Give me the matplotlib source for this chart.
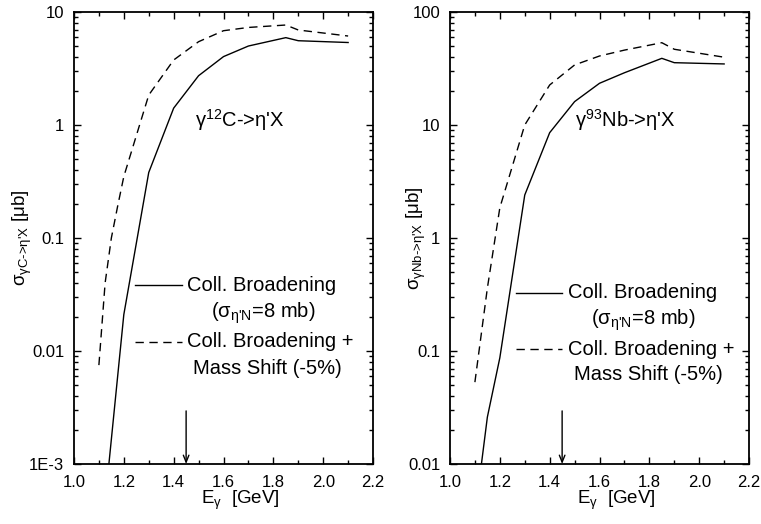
import matplotlib
matplotlib.use("Agg")
import matplotlib.pyplot as plt
import numpy as np
from matplotlib.lines import Line2D
from matplotlib.ticker import FuncFormatter, LogLocator, MultipleLocator, NullFormatter

plt.rcParams["font.family"] = ["Liberation Sans", "DejaVu Sans"]
plt.rcParams["mathtext.fontset"] = "custom"
plt.rcParams["mathtext.rm"] = "Liberation Sans"
plt.rcParams["mathtext.it"] = "Liberation Sans:italic"
plt.rcParams["mathtext.bf"] = "Liberation Sans:bold"

# carbon target
c_broad_e = [1.1, 1.2, 1.3, 1.4, 1.5, 1.6, 1.7, 1.85, 1.9, 2.1]
c_broad = [1.3e-4, 0.021, 0.38, 1.41, 2.73, 4.03, 5.0, 5.93, 5.57, 5.37]
c_shift_e = [1.1, 1.125, 1.15, 1.175, 1.2, 1.3, 1.4, 1.5, 1.6, 1.7, 1.85, 1.9, 2.1]
c_shift = [0.0075, 0.04, 0.1, 0.19, 0.35, 1.84, 3.76, 5.46, 6.83, 7.3, 7.67, 6.93, 6.13]

# niobium target
nb_broad_e = [1.1, 1.15, 1.2, 1.3, 1.4, 1.5, 1.6, 1.7, 1.85, 1.9, 2.1]
nb_broad = [0.0035, 0.026, 0.087, 2.4, 8.55, 16.1, 23.4, 29.0, 38.9, 35.6, 34.7]
nb_shift_e = [1.1, 1.15, 1.2, 1.3, 1.4, 1.5, 1.6, 1.7, 1.85, 1.9, 2.1]
nb_shift = [0.053, 0.36, 1.85, 10.0, 22.6, 34.0, 40.8, 46.0, 53.5, 46.8, 39.8]

threshold = 1.45
label_broad = ["Coll. Broadening", "(σ$_{\\text{η'N}}$=8 mb)"]
label_shift = ["Coll. Broadening +", "Mass Shift (-5%)"]


def log_label(value, _pos):
    if value >= 0.01:
        return f"{value:g}"
    return f"1E{int(round(np.log10(value)))}"


def style_axis(ax, ylim):
    ax.set_yscale("log")
    ax.set_xlim(1.0, 2.2)
    ax.set_ylim(*ylim)
    ax.xaxis.set_major_locator(MultipleLocator(0.2))
    ax.xaxis.set_minor_locator(MultipleLocator(0.1))
    ax.xaxis.set_major_formatter(FuncFormatter(lambda v, _p: f"{v:.1f}"))
    ax.yaxis.set_major_locator(LogLocator(base=10))
    ax.yaxis.set_minor_locator(LogLocator(base=10, subs=np.arange(2, 10)))
    ax.yaxis.set_major_formatter(FuncFormatter(log_label))
    ax.yaxis.set_minor_formatter(NullFormatter())
    ax.tick_params(which="both", direction="in", top=True, right=True, width=1.0, labelsize=12)
    ax.tick_params(which="major", length=5, pad=7)
    ax.tick_params(axis="x", which="major", pad=8)
    ax.tick_params(which="minor", length=3)
    for spine in ax.spines.values():
        spine.set_linewidth(1.3)
    ax.set_xlabel("E$_{\\text{γ}}$  [GeV]", fontsize=13.5)
    ax.xaxis.set_label_coords(0.555, -0.055)


def draw_legend(ax, x0, x1, text_x, rows):
    (y_broad, y_broad2, cx_broad), (y_shift, y_shift2, cx_shift) = rows
    for y, y2, cx, style, lines in (
        (y_broad, y_broad2, cx_broad, "-", label_broad),
        (y_shift, y_shift2, cx_shift, (0, (6, 4)), label_shift),
    ):
        ax.add_line(Line2D([x0, x1], [y, y], transform=ax.transAxes, color="black",
                           lw=1.0, linestyle=style))
        ax.text(text_x, y, lines[0], transform=ax.transAxes, fontsize=14.5,
                ha="left", va="center")
        ax.text(cx, y2, lines[1], transform=ax.transAxes, fontsize=14.5,
                ha="center", va="center")


fig = plt.figure(figsize=(7.61, 5.24), dpi=100)
ax_c = fig.add_axes([0.0972, 0.1145, 0.393, 0.8626])
ax_nb = fig.add_axes([0.5913, 0.1145, 0.393, 0.8626])

ax_c.plot(c_broad_e, c_broad, color="black", lw=1.0)
ax_c.plot(c_shift_e, c_shift, color="black", lw=1.0, linestyle=(0, (6, 4)))
style_axis(ax_c, (1e-3, 10))
ax_c.set_ylabel("σ$_{\\text{γC->η'X}}$ [μb]", fontsize=13.5)
ax_c.yaxis.set_label_coords(-0.135, 0.5)
ax_c.text(0.555, 0.761, "γ$^{\\text{12}}$C->η'X", transform=ax_c.transAxes,
          fontsize=14.5, ha="center", va="center")
draw_legend(ax_c, 0.204, 0.361, 0.378,
            ((0.396, 0.334, 0.632), (0.271, 0.212, 0.646)))
ax_c.annotate("", xy=(threshold, 1e-3), xytext=(threshold, 2.95e-3),
              arrowprops=dict(arrowstyle="->,head_length=0.5,head_width=0.2",
                              color="black", lw=1.0, shrinkA=0, shrinkB=0))

ax_nb.plot(nb_broad_e, nb_broad, color="black", lw=1.0)
ax_nb.plot(nb_shift_e, nb_shift, color="black", lw=1.0, linestyle=(0, (6, 4)))
style_axis(ax_nb, (0.01, 100))
ax_nb.set_ylabel("σ$_{\\text{γNb->η'X}}$ [μb]", fontsize=13.5)
ax_nb.yaxis.set_label_coords(-0.075, 0.5)
ax_nb.text(0.585, 0.761, "γ$^{\\text{93}}$Nb->η'X", transform=ax_nb.transAxes,
           fontsize=14.5, ha="center", va="center")
draw_legend(ax_nb, 0.221, 0.375, 0.395,
            ((0.379, 0.319, 0.645), (0.254, 0.197, 0.662)))
ax_nb.annotate("", xy=(threshold, 0.01), xytext=(threshold, 0.0295),
               arrowprops=dict(arrowstyle="->,head_length=0.5,head_width=0.2",
                               color="black", lw=1.0, shrinkA=0, shrinkB=0))

fig.savefig("out.png", dpi=100)
